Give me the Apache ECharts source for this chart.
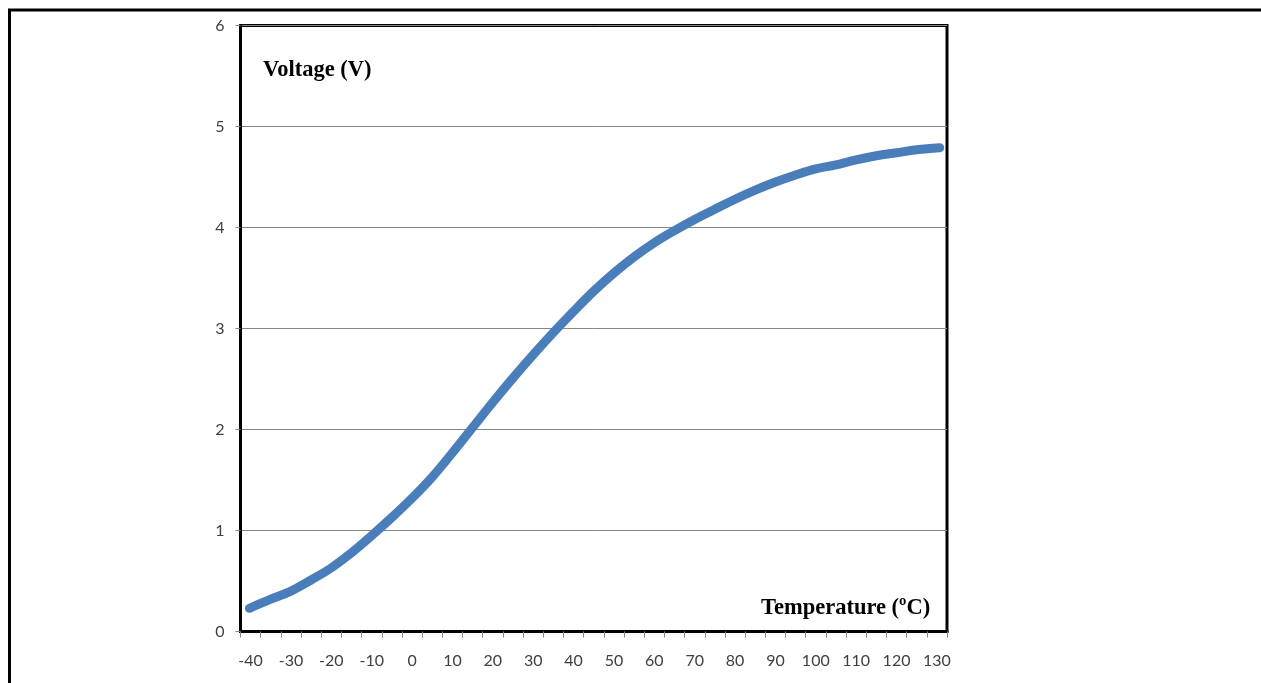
<!DOCTYPE html>
<html>
<head>
<meta charset="utf-8">
<style>
html,body{margin:0;padding:0;background:#fff;}
#chart{width:1261px;height:683px;}
</style>
<script src="https://cdn.jsdelivr.net/npm/echarts@6/dist/echarts.min.js"></script>
</head>
<body>
<div id="chart"></div>
<script>
// Data
const temperatures = [-40.3, -35, -30, -25, -20, -15, -10, -5, 0, 5, 10, 15, 20, 25, 30, 35, 40, 45, 50, 55, 60, 65, 70, 75, 80, 85, 90, 95, 100, 105, 110, 115, 120, 125, 130.7];
const voltages =     [0.23, 0.32, 0.40, 0.51, 0.63, 0.78, 0.95, 1.13, 1.32, 1.53, 1.77, 2.02, 2.27, 2.51, 2.74, 2.96, 3.17, 3.37, 3.55, 3.71, 3.85, 3.97, 4.08, 4.18, 4.28, 4.37, 4.45, 4.52, 4.58, 4.62, 4.67, 4.71, 4.74, 4.77, 4.79];
const xTickLabels = [-40, -30, -20, -10, 0, 10, 20, 30, 40, 50, 60, 70, 80, 90, 100, 110, 120, 130];
const xTickMarks = [-42.5, -37.5, -32.5, -27.5, -22.5, -17.5, -12.5, -7.5, -2.5, 2.5, 7.5, 12.5, 17.5, 22.5, 27.5, 32.5, 37.5, 42.5, 47.5, 52.5, 57.5, 62.5, 67.5, 72.5, 77.5, 82.5, 87.5, 92.5, 97.5, 102.5, 107.5, 112.5, 117.5, 122.5, 127.5, 132.5];
const yTickLabels = [0, 1, 2, 3, 4, 5, 6];
const yTitle = 'Voltage (V)';
const xTitle = 'Temperature (\u00BAC)';

const points = temperatures.map((t, i) => [t, voltages[i]]);

const chart = echarts.init(document.getElementById('chart'), null, {renderer: 'canvas'});
chart.setOption({
  animation: false,
  backgroundColor: '#ffffff',
  grid: {
    left: 240.5, right: 314, top: 25.5, bottom: 51.5,
    show: true, borderColor: '#000000', borderWidth: 3, backgroundColor: 'transparent'
  },
  xAxis: {
    type: 'value',
    min: -42.5, max: 132.5,
    axisLine: {show: true, onZero: false, lineStyle: {color: '#000', width: 3}},
    axisTick: {show: true, length: 6, customValues: xTickMarks, lineStyle: {color: '#868686', width: 1}},
    axisLabel: {
      customValues: xTickLabels, margin: 21,
      fontFamily: 'Lato', fontSize: 16, color: '#404040'
    },
    splitLine: {show: false}
  },
  yAxis: {
    type: 'value',
    min: 0, max: 6, interval: 1,
    axisLine: {show: true, onZero: false, lineStyle: {color: '#000', width: 3}},
    axisTick: {show: true, length: 5, lineStyle: {color: '#868686', width: 1}},
    axisLabel: {
      customValues: yTickLabels, margin: 16,
      fontFamily: 'Lato', fontSize: 16, color: '#404040'
    },
    splitLine: {show: true, lineStyle: {color: '#868686', width: 1}}
  },
  graphic: [
    {type: 'line', shape: {x1: 8, y1: 10, x2: 1261, y2: 10}, style: {stroke: '#000', lineWidth: 3}},
    {type: 'line', shape: {x1: 9.5, y1: 9, x2: 9.5, y2: 683}, style: {stroke: '#000', lineWidth: 3}},
    {type: 'text', left: 263, top: 59, style: {text: yTitle, font: 'bold 22.5px "Liberation Serif"', fill: '#000'}},
    {type: 'text', left: 761, top: 597, style: {text: xTitle, font: 'bold 22.5px "Liberation Serif"', fill: '#000'}}
  ],
  series: [{
    type: 'line',
    data: points,
    smooth: 0.4,
    showSymbol: false,
    lineStyle: {color: '#4A7EBB', width: 9, cap: 'round', join: 'round'},
    z: 3
  }]
});
</script>
</body>
</html>
